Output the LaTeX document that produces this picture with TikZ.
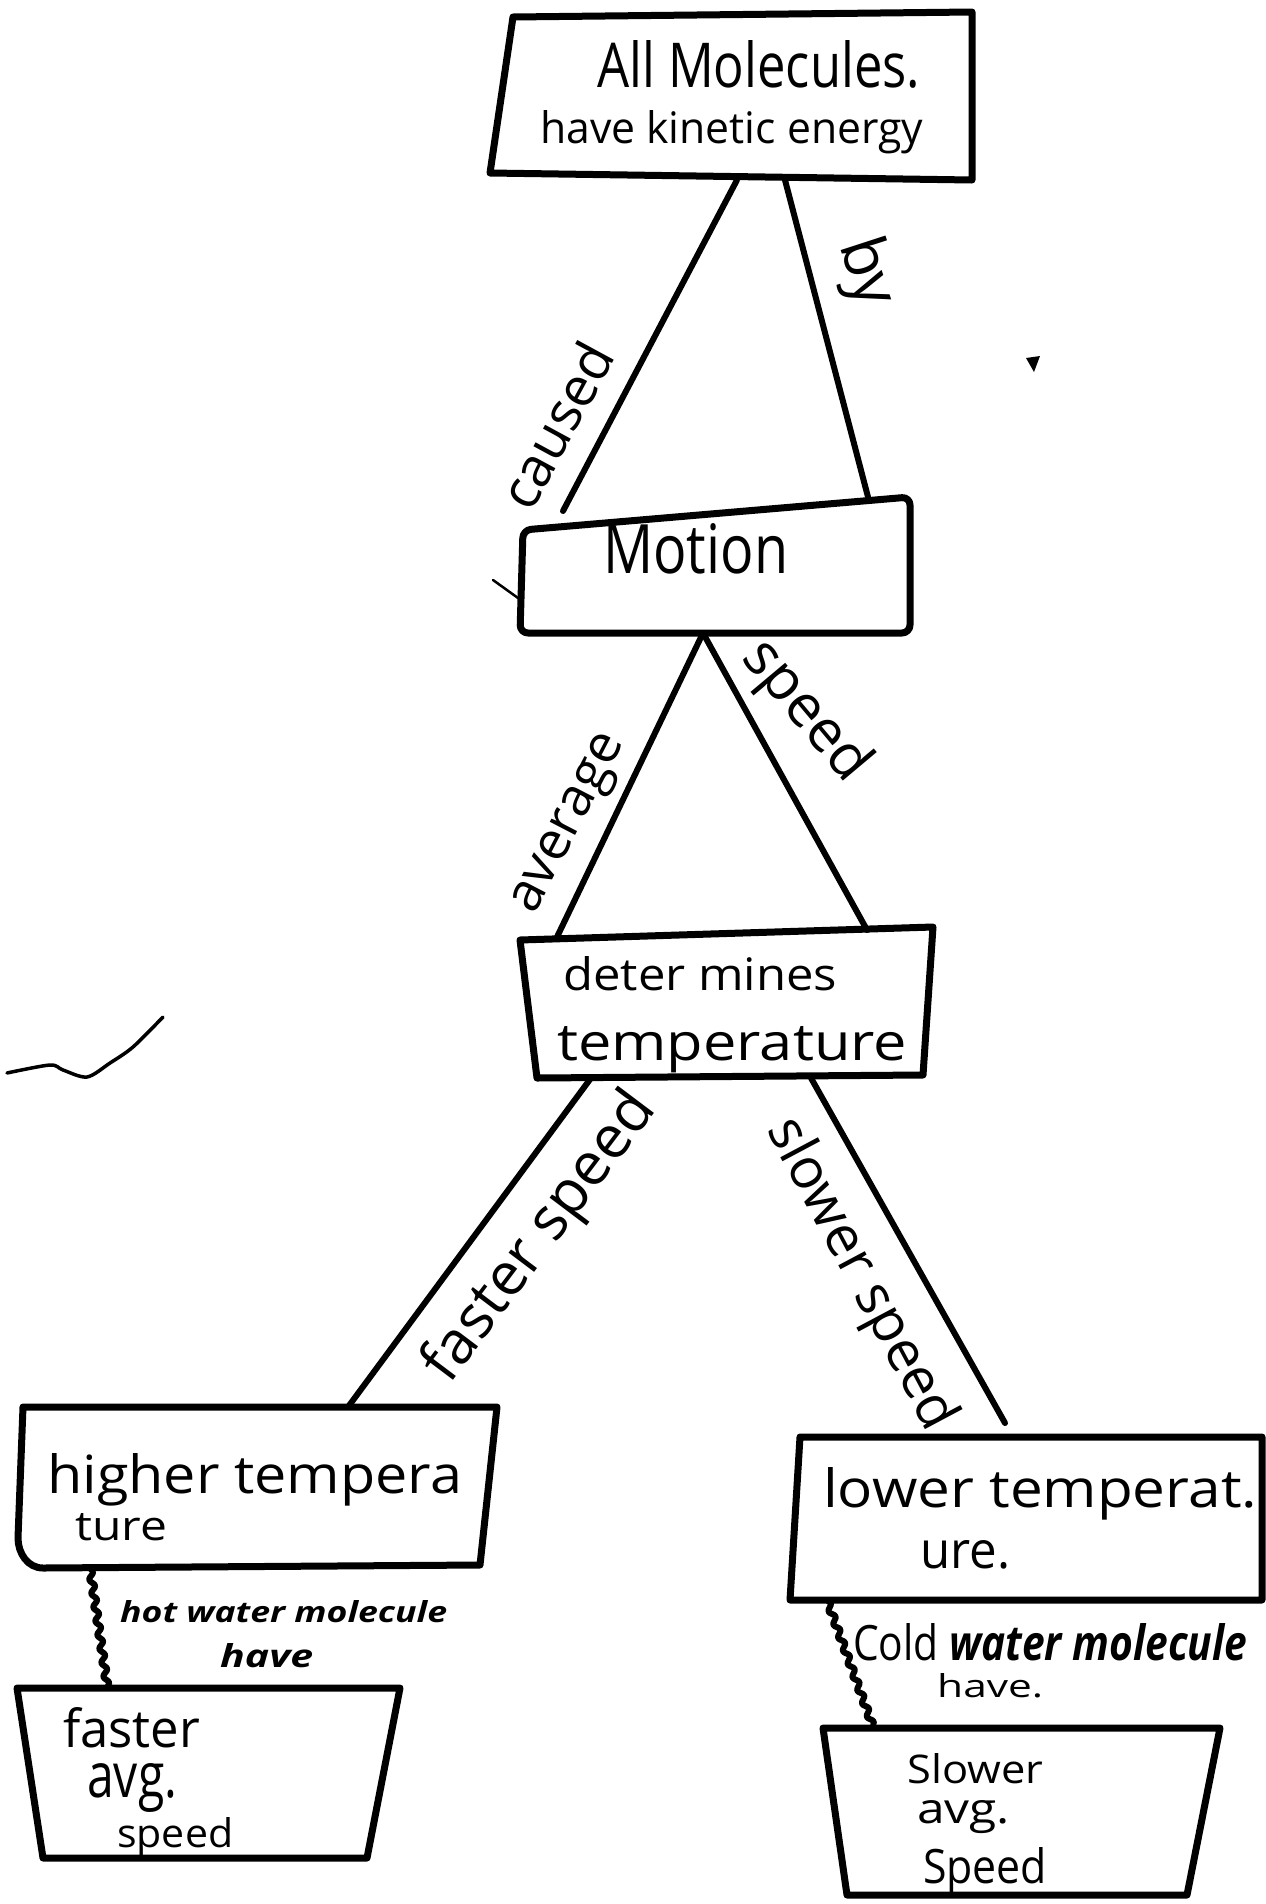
\documentclass[tikz,border=0pt]{standalone}
\usepackage{fontspec}
\setmainfont{Open Sans}
\usetikzlibrary{decorations.pathmorphing}
\newsavebox\hwbox
% text fitted to a width and a height (top of tallest letter to baseline)
\newcommand\hwtext[3]{%
  \sbox\hwbox{\fontsize{40}{40}\selectfont #3}%
  \pgfmathsetmacro\hwsize{40*#2/\the\ht\hwbox}%
  \pgfmathsetmacro\hwst{#1/(\the\wd\hwbox*#2/\the\ht\hwbox)}%
  \fontsize{\hwsize pt}{\hwsize pt}\selectfont\addfontfeature{FakeStretch=\hwst}#3}
% text fitted to a length
\newcommand\hwlen[2]{%
  \sbox\hwbox{\fontsize{40}{40}\selectfont #2}%
  \pgfmathsetmacro\hwsize{40*#1/\the\wd\hwbox}%
  \fontsize{\hwsize pt}{\hwsize pt}\selectfont #2}
\begin{document}
\begin{tikzpicture}[x=1pt,y=-1pt,line join=round,line cap=round,
  font=\fontsize{40}{48}\selectfont,
  frame/.style={rectangle,inner sep=0pt,outer sep=0pt},
  outline/.style={draw,line width=7pt},
  link/.style={line width=6pt},
  wavy/.style={line width=6pt,decorate,decoration={snake,segment length=14pt,amplitude=2.5pt}},
  txt/.style={inner sep=0pt,anchor=base west},
  lbl/.style={inner sep=0pt,anchor=center}]
\fill[white] (0,0) rectangle (1266,1904);
\useasboundingbox (0,0) rectangle (1266,1904);

% boxes (named frames, hand-drawn outlines)
\node[frame,minimum width=482pt,minimum height=168pt] (top) at (731,96) {};
\node[frame,minimum width=390pt,minimum height=136pt] (motion) at (715,565) {};
\node[frame,minimum width=413pt,minimum height=151pt] (det) at (726.5,1002.5) {};
\node[frame,minimum width=479pt,minimum height=161pt] (higher) at (257.5,1487.5) {};
\node[frame,minimum width=472pt,minimum height=163pt] (lower) at (1026,1518.5) {};
\node[frame,minimum width=383pt,minimum height=170pt] (faster) at (208.5,1773) {};
\node[frame,minimum width=397pt,minimum height=167pt] (slower) at (1021.5,1811.5) {};

\draw[outline] ([xshift=23pt,yshift=-5pt]top.north west) -- (top.north east)
  -- (top.south east) -- ([yshift=7pt]top.south west) -- cycle;
\draw[outline,rounded corners=8pt] ([xshift=3pt,yshift=-33pt]motion.north west) -- (motion.north east)
  -- (motion.south east) -- (motion.south west) -- cycle;
\draw[outline] ([yshift=-13pt]det.north west) -- (det.north east)
  -- ([xshift=-10pt,yshift=3pt]det.south east) -- ([xshift=17pt]det.south west) -- cycle;
\draw[outline] ([xshift=5pt]higher.north west) -- (higher.north east)
  -- ([xshift=-17pt,yshift=3pt]higher.south east) -- ([xshift=25pt]higher.south west)
  to[out=180,in=-90] ([yshift=30pt]higher.south west) -- cycle;
\draw[outline] ([xshift=10pt]lower.north west) -- (lower.north east)
  -- (lower.south east) -- (lower.south west) -- cycle;
\draw[outline] (faster.north west) -- (faster.north east) -- ([xshift=-33pt]faster.south east)
  -- ([xshift=26pt]faster.south west) -- cycle;
\draw[outline] (slower.north west) -- (slower.north east) -- ([xshift=-33pt]slower.south east)
  -- ([xshift=24pt]slower.south west) -- cycle;

% box texts
\node[txt] (t1) at (597,87) {\hwtext{323}{47}{All Molecules.}};
\node[txt] (t2) at (540,143) {\hwtext{383}{33}{have kinetic energy}};
\node[txt] (t3) at (603,573) {\hwtext{185}{50}{Motion}};
\node[txt] (t4) at (563,990) {\hwtext{274}{34}{deter mines}};
\node[txt] (t5) at (557,1060) {\hwtext{350}{34}{temperature}};
\node[txt] (t6) at (47,1493) {\hwtext{415}{40}{higher tempera}};
\node[txt] (t7) at (75,1540) {\hwtext{92}{27}{ture}};
\node[txt] (t8) at (120,1622) {\hwtext{327}{22}{\bfseries\itshape hot water molecule}};
\node[txt] (t9) at (220,1667) {\hwtext{93}{24}{\bfseries\itshape have}};
\node[txt] (t10) at (63,1747) {\hwtext{137}{40}{faster}};
\node[txt] (t11) at (87,1797) {\hwtext{90}{34}{avg.}};
\node[txt] (t12) at (117,1847) {\hwtext{116}{30}{speed}};
\node[txt] (t13) at (823,1507) {\hwtext{434}{40}{lower temperat.}};
\node[txt] (t14) at (920,1568) {\hwtext{90}{28}{ure.}};
\node[txt] (t15) at (853,1660) {\hwtext{394}{37}{Cold \bfseries\itshape water molecule}};
\node[txt] (t16) at (937,1697) {\hwtext{106}{24}{have.}};
\node[txt] (t17) at (907,1783) {\hwtext{136}{30}{Slower}};
\node[txt] (t18) at (917,1823) {\hwtext{93}{23}{avg.}};
\node[txt] (t19) at (923,1883) {\hwtext{124}{36}{Speed}};

% connectors
\draw[link] ([xshift=6pt]top.south) -- ([xshift=-152pt,yshift=-14pt]motion.north);
\draw[link] ([xshift=54pt]top.south) -- ([xshift=153pt]motion.north);
\draw[link] ([xshift=-12pt]motion.south) -- ([xshift=-169.5pt,yshift=-10pt]det.north);
\draw[link] ([xshift=-12pt]motion.south) -- ([xshift=140.5pt,yshift=-3pt]det.north);
\draw[link] ([xshift=-135.5pt]det.south) -- ([xshift=90.5pt]higher.north);
\draw[link] ([xshift=84.5pt]det.south) -- ([xshift=-21pt,yshift=14pt]lower.north);
\draw[wavy] ([xshift=-167.5pt]higher.south) -- ([xshift=-101pt]faster.north);
\draw[wavy] ([xshift=-199pt]lower.south) -- ([xshift=-148pt]slower.north);

% connector labels
\node[lbl,rotate=61.5] (l1) at (556,425) {\hwlen{180}{caused}};
\node[lbl,rotate=-72] (l2) at (865,273) {\hwlen{68}{by}};
\node[lbl,rotate=62.6] (l3) at (572,825) {\hwlen{196}{average}};
\node[lbl,rotate=-50] (l4) at (805,712) {\hwlen{165}{speed}};
\node[lbl,rotate=53] (l5) at (541,1238) {\hwlen{345}{faster speed}};
\node[lbl,rotate=-62] (l6) at (860,1275) {\hwlen{345}{slower speed}};

% stray pencil marks
\draw[line width=3.5pt] plot[smooth] coordinates {(7,1073) (50,1065) (63,1070) (87,1077) (110,1063) (133,1047) (163,1017)};
\draw[line width=2.5pt] (493,580) -- (518,598);
\fill (1026,358) -- (1040,356) -- (1034,372) -- cycle;
\end{tikzpicture}
\end{document}
